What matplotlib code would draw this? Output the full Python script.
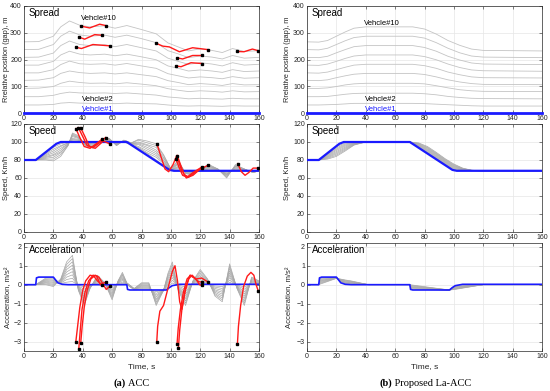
"""
ACC vs La-ACC platoon response: spread, speed and acceleration
"""
import matplotlib
matplotlib.use("Agg")
import matplotlib.pyplot as plt

# ---------------- data ----------------
# leader (vehicle #1)
lead_t = [0, 8, 22, 25, 70, 99, 102, 160]
lead_v = [80, 80, 98, 100, 100, 69, 68, 68]
lead_acc_t = [0, 8, 8.5, 10, 20, 21.5, 23, 26, 30, 70, 70.5, 72, 97, 99, 101, 106, 160]
lead_acc = [0, 0, 0.36, 0.4, 0.4, 0.25, 0.1, 0.02, 0, 0, -0.25, -0.28, -0.28, -0.15, -0.05, 0.02, 0.02]

# ---- (a) ACC ----
spread_a_t = [0, 10, 20, 25, 31, 38, 45, 55, 62, 70, 80, 90, 98, 105, 112, 120, 128, 135, 142, 150, 160]
spread_a = [
    [30, 30, 32, 37, 39, 37, 36, 36, 35, 37, 35, 34, 30, 27, 26, 27, 26, 25, 27, 26, 26],
    [61, 61, 66, 73, 78, 75, 74, 75, 73, 75, 71, 67, 60, 57, 53, 55, 53, 52, 55, 53, 53],
    [92, 93, 99, 111, 119, 114, 111, 112, 109, 113, 108, 102, 91, 85, 80, 83, 81, 78, 83, 79, 80],
    [122, 123, 132, 148, 157, 151, 148, 150, 146, 150, 143, 136, 121, 114, 106, 110, 107, 103, 110, 105, 106],
    [150, 150, 162, 181, 194, 184, 182, 184, 179, 185, 176, 167, 147, 139, 131, 135, 132, 128, 136, 130, 132],
    [179, 179, 193, 217, 231, 220, 217, 220, 214, 220, 210, 199, 176, 167, 157, 161, 157, 152, 162, 155, 157],
    [208, 209, 224, 252, 269, 256, 252, 255, 248, 256, 244, 232, 205, 193, 182, 188, 183, 176, 188, 179, 182],
    [237, 238, 256, 287, 306, 292, 287, 291, 283, 291, 278, 263, 233, 221, 207, 213, 209, 202, 215, 205, 208],
    [266, 267, 287, 322, 344, 328, 322, 326, 317, 327, 312, 296, 262, 247, 232, 240, 234, 226, 241, 230, 233],
]
spread_a_red_t = [
    [38.6, 44.7, 51.5, 55.6],
    [37.3, 41.3, 48.1, 52.9],
    [35.3, 39.1, 46.9, 58.5],
    [90.2, 94.5, 99, 105.8, 114.8, 125.2],
    [104.4, 108, 114.8, 120.9],
    [103.5, 106.9, 113.7, 120.9],
    [145.3, 149.8, 155.5, 159.5],
]
spread_a_red = [
    [325, 318, 332, 327],
    [284, 276, 293, 291],
    [246, 241, 256, 251],
    [260, 250, 247, 229, 244, 237],
    [206, 202, 215, 215],
    [176, 173, 188, 185],
    [230, 229, 239, 233],
]

speed_a_t = [0, 8, 15, 20, 25, 30, 33, 37, 42, 47, 53, 58, 63, 68, 73, 78, 84, 90, 95, 100,
             105, 110, 115, 120, 126, 132, 138, 144, 150, 156, 160]
speed_a = [
    [80, 80, 88, 94, 98, 100, 101, 101, 100, 99, 100, 100, 100, 100, 97, 93, 87, 80, 74, 69, 69, 68, 67, 68, 69, 68, 67, 69, 68, 68, 68],
    [80, 80, 87, 92, 96, 99, 102, 102, 99, 98, 100, 101, 99, 100, 97, 94, 88, 83, 76, 69, 71, 67, 67, 68, 70, 68, 66, 70, 68, 68, 68],
    [80, 80, 86, 90, 95, 99, 103, 102, 99, 98, 100, 101, 99, 101, 98, 95, 90, 85, 77, 69, 72, 67, 66, 69, 70, 69, 65, 70, 69, 67, 68],
    [80, 80, 85, 88, 93, 98, 104, 103, 98, 97, 100, 102, 98, 101, 98, 97, 92, 87, 79, 69, 73, 67, 66, 69, 71, 69, 64, 71, 69, 67, 68],
    [80, 80, 84, 86, 91, 98, 106, 104, 98, 96, 101, 102, 98, 101, 98, 98, 94, 89, 80, 69, 75, 66, 65, 69, 72, 69, 64, 72, 69, 67, 68],
    [80, 80, 83, 85, 89, 97, 107, 105, 97, 95, 101, 103, 97, 101, 98, 99, 96, 91, 82, 70, 76, 66, 65, 69, 73, 69, 63, 73, 69, 67, 68],
    [80, 80, 82, 83, 88, 97, 108, 105, 97, 95, 101, 103, 97, 102, 99, 100, 97, 94, 83, 70, 77, 66, 64, 70, 73, 70, 62, 73, 70, 66, 68],
    [80, 80, 81, 81, 86, 96, 109, 106, 96, 94, 101, 104, 96, 102, 99, 102, 99, 96, 85, 70, 79, 65, 64, 70, 74, 70, 61, 74, 70, 66, 68],
    [80, 80, 80, 79, 84, 96, 110, 107, 96, 93, 101, 104, 96, 102, 99, 103, 101, 98, 86, 70, 80, 65, 63, 70, 75, 70, 60, 75, 70, 66, 68],
]
speed_a_red_t = [
    [35.3, 38, 41, 45, 50, 53],
    [37, 40, 43, 47, 52, 55.6],
    [38.5, 41.5, 44.5, 48.5, 54, 58.3],
    [90.5, 93, 96, 98.5, 101.5, 104, 107, 110.5, 115, 120, 125.2],
    [104.4, 106.5, 109, 112, 116, 120.9],
    [103.5, 105.5, 108, 111, 115, 120.9],
    [145.5, 148, 150.5, 153, 156, 159.5],
]
speed_a_red = [
    [115, 105, 95, 93, 99, 103],
    [116, 106, 96, 94, 100, 105],
    [116, 106, 95, 93, 101, 98],
    [98, 85, 70, 67, 75, 85, 70, 60, 63, 70, 74],
    [85, 75, 64, 61, 66, 71],
    [81, 72, 63, 61, 66, 72],
    [76, 67, 63, 66, 71, 71],
]

acc_a_t = [0, 8, 15, 20, 25, 29, 33, 37, 41, 45, 50, 55, 60, 64, 67, 70, 75, 80, 85, 90,
           95, 98, 101, 105, 110, 115, 120, 125, 130, 135, 140, 145, 150, 155, 160]
acc_a = [
    [0, 0, 0.36, 0.34, 0.06, 0.13, 0.17, -0.03, -0.12, -0.02, 0.06, 0.01, -0.09, 0.02, 0.07, 0.01, -0.27, -0.24, -0.24, -0.37, -0.28, -0.13, 0.09, -0.03, -0.12, 0.02, 0.09, 0.03, -0.07, -0.1, 0.12, -0.02, -0.12, 0.04, 0.02],
    [0, 0, 0.31, 0.29, 0.09, 0.27, 0.34, -0.07, -0.24, -0.04, 0.11, 0.02, -0.18, 0.04, 0.14, 0.02, -0.26, -0.2, -0.2, -0.46, -0.28, -0.04, 0.23, -0.07, -0.24, 0.04, 0.18, 0.07, -0.13, -0.2, 0.24, -0.04, -0.24, 0.09, 0.04],
    [0, 0, 0.27, 0.23, 0.12, 0.4, 0.52, -0.1, -0.37, -0.07, 0.17, 0.03, -0.27, 0.07, 0.22, 0.03, -0.25, -0.15, -0.15, -0.55, -0.29, 0.05, 0.37, -0.1, -0.37, 0.07, 0.27, 0.1, -0.2, -0.3, 0.37, -0.07, -0.37, 0.13, 0.07],
    [0, 0, 0.22, 0.18, 0.15, 0.53, 0.69, -0.13, -0.49, -0.09, 0.22, 0.04, -0.36, 0.09, 0.29, 0.04, -0.24, -0.11, -0.11, -0.64, -0.29, 0.14, 0.51, -0.13, -0.49, 0.09, 0.36, 0.13, -0.27, -0.4, 0.49, -0.09, -0.49, 0.18, 0.09],
    [0, 0, 0.18, 0.12, 0.18, 0.67, 0.86, -0.17, -0.61, -0.11, 0.28, 0.06, -0.44, 0.11, 0.36, 0.06, -0.24, -0.07, -0.07, -0.74, -0.29, 0.24, 0.64, -0.17, -0.61, 0.11, 0.44, 0.17, -0.33, -0.5, 0.61, -0.11, -0.61, 0.22, 0.11],
    [0, 0, 0.13, 0.07, 0.21, 0.8, 1.03, -0.2, -0.73, -0.13, 0.33, 0.07, -0.53, 0.13, 0.43, 0.07, -0.23, -0.03, -0.03, -0.83, -0.29, 0.33, 0.78, -0.2, -0.73, 0.13, 0.53, 0.2, -0.4, -0.6, 0.73, -0.13, -0.73, 0.27, 0.13],
    [0, 0, 0.09, 0.01, 0.24, 0.93, 1.21, -0.23, -0.86, -0.16, 0.39, 0.08, -0.62, 0.16, 0.51, 0.08, -0.22, 0.02, 0.02, -0.92, -0.3, 0.42, 0.92, -0.23, -0.86, 0.16, 0.62, 0.23, -0.47, -0.7, 0.86, -0.16, -0.86, 0.31, 0.16],
    [0, 0, 0.04, -0.04, 0.27, 1.07, 1.38, -0.27, -0.98, -0.18, 0.44, 0.09, -0.71, 0.18, 0.58, 0.09, -0.21, 0.06, 0.06, -1.01, -0.3, 0.51, 1.06, -0.27, -0.98, 0.18, 0.71, 0.27, -0.53, -0.8, 0.98, -0.18, -0.98, 0.36, 0.18],
    [0, 0, 0, -0.1, 0.3, 1.2, 1.55, -0.3, -1.1, -0.2, 0.5, 0.1, -0.8, 0.2, 0.65, 0.1, -0.2, 0.1, 0.1, -1.1, -0.3, 0.6, 1.2, -0.3, -1.1, 0.2, 0.8, 0.3, -0.6, -0.9, 1.1, -0.2, -1.1, 0.4, 0.2],
]
acc_a_red_t = [
    [35.3, 36.5, 38, 40, 42, 45, 47.5, 50, 52.9],
    [37.3, 38.3, 39.5, 41.5, 44, 47, 49.5, 52, 55.6],
    [38.6, 39.6, 41, 43, 45.5, 48.5, 51, 54, 56, 58.3],
    [90.4, 91, 92.5, 95, 98, 101, 102.8, 104.5, 106, 107.5, 110, 113, 117, 121, 125.2],
    [104.2, 105, 106.5, 108.5, 111, 113.5, 116, 119, 120.9],
    [105.1, 106, 107.5, 109.5, 112, 114.5, 117, 119.5, 120.9],
    [145.3, 146, 147.5, 149.5, 152, 154.5, 156.5, 158, 159.6],
]
acc_a_red = [
    [-3.0, -2.2, -1.2, -0.3, 0.2, 0.5, 0.45, 0.2, 0.0],
    [-3.39, -2.4, -1.3, -0.4, 0.2, 0.5, 0.45, 0.0, 0.14],
    [-3.09, -2.2, -1.2, -0.3, 0.3, 0.5, 0.4, 0.0, -0.25, -0.09],
    [-3.0, -2.2, -1.4, -1.1, -0.2, 0.7, 1.0, 0.2, -0.9, -1.3, -0.2, 0.5, 0.3, 0.35, 0.14],
    [-3.13, -2.3, -1.3, -0.4, 0.3, 0.5, 0.35, 0.15, 0.14],
    [-3.36, -2.4, -1.3, -0.4, 0.3, 0.5, 0.3, 0.0, -0.04],
    [-3.13, -2.2, -1.1, -0.1, 0.45, 0.65, 0.5, 0.0, -0.35],
]

# ---- (b) Proposed La-ACC ----
spread_b_t = [0, 8, 14, 20, 26, 32, 40, 72, 80, 88, 96, 104, 112, 120, 160]
spread_b = [
    [30, 30, 31, 32, 34, 36, 36, 36, 35, 33, 31, 29, 27, 26, 26],
    [61, 61, 62, 66, 70, 73, 74, 74, 72, 68, 62, 58, 55, 54, 53],
    [92, 92, 94, 99, 105, 109, 111, 111, 109, 102, 94, 87, 83, 81, 80],
    [122, 121, 124, 132, 139, 145, 148, 148, 144, 135, 124, 116, 110, 107, 106],
    [150, 149, 153, 162, 171, 179, 182, 182, 177, 167, 153, 143, 135, 132, 131],
    [179, 178, 183, 193, 204, 213, 217, 217, 211, 199, 183, 170, 161, 158, 156],
    [208, 207, 212, 225, 237, 248, 252, 252, 245, 231, 212, 198, 187, 183, 181],
    [237, 236, 242, 256, 270, 282, 287, 287, 280, 263, 242, 225, 213, 209, 207],
    [266, 265, 271, 287, 303, 317, 322, 322, 314, 295, 271, 253, 239, 234, 232],
]

speed_b_t = [0, 8, 14, 20, 26, 32, 40, 70, 76, 82, 88, 94, 100, 106, 112, 118, 160]
speed_b = [
    [80, 80, 87.2, 94.7, 98.9, 99.6, 100, 100, 94.2, 88.1, 81.7, 75.2, 69.3, 68.3, 68.1, 68, 68],
    [80, 80, 86.4, 93.3, 97.8, 99.2, 100, 100, 94.8, 88.9, 82.5, 76.0, 70.1, 68.7, 68.2, 68, 68],
    [80, 80, 85.7, 92.0, 96.7, 98.8, 100, 100, 95.4, 89.8, 83.4, 76.8, 70.8, 69.0, 68.2, 68, 68],
    [80, 80, 84.9, 90.7, 95.6, 98.4, 100, 100, 96.0, 90.7, 84.2, 77.6, 71.6, 69.3, 68.3, 68, 68],
    [80, 80, 84.1, 89.3, 94.4, 98.1, 100, 100, 96.6, 91.5, 85.1, 78.3, 72.4, 69.7, 68.4, 68, 68],
    [80, 80, 83.3, 88.0, 93.3, 97.7, 100, 100, 97.2, 92.4, 86.0, 79.1, 73.2, 70.0, 68.5, 68, 68],
    [80, 80, 82.6, 86.7, 92.2, 97.3, 100, 100, 97.8, 93.3, 86.8, 79.9, 73.9, 70.3, 68.5, 68, 68],
    [80, 80, 81.8, 85.3, 91.1, 96.9, 100, 100, 98.4, 94.1, 87.6, 80.7, 74.7, 70.7, 68.6, 68, 68],
    [80, 80, 81.0, 84.0, 90.0, 96.5, 100, 100, 99.0, 95.0, 88.5, 81.5, 75.5, 71.0, 68.7, 68, 68],
]

acc_b_t = [0, 8, 9, 20, 22, 26, 30, 36, 42, 70, 71, 97, 100, 110, 120, 160]
acc_b = [
    [0, 0, 0.34, 0.40, 0.21, 0.05, 0.02, 0.01, 0, 0, -0.24, -0.29, -0.09, -0.03, 0, 0],
    [0, 0, 0.30, 0.39, 0.22, 0.08, 0.04, 0.02, 0, 0, -0.21, -0.29, -0.11, -0.04, 0, 0],
    [0, 0, 0.26, 0.38, 0.24, 0.10, 0.07, 0.03, 0, 0, -0.18, -0.29, -0.13, -0.06, 0, 0],
    [0, 0, 0.22, 0.37, 0.25, 0.13, 0.09, 0.04, 0, 0, -0.15, -0.29, -0.15, -0.07, 0, 0],
    [0, 0, 0.19, 0.37, 0.26, 0.15, 0.11, 0.06, 0, 0, -0.13, -0.28, -0.18, -0.08, 0, 0],
    [0, 0, 0.15, 0.36, 0.27, 0.18, 0.13, 0.07, 0, 0, -0.10, -0.28, -0.20, -0.09, 0, 0],
    [0, 0, 0.11, 0.35, 0.29, 0.20, 0.16, 0.08, 0, 0, -0.07, -0.28, -0.22, -0.11, 0, 0],
    [0, 0, 0.07, 0.34, 0.30, 0.23, 0.18, 0.09, 0, 0, -0.04, -0.28, -0.24, -0.12, 0, 0],
    [0, 0, 0.03, 0.33, 0.31, 0.25, 0.20, 0.10, 0, 0, -0.01, -0.28, -0.26, -0.13, 0, 0],
]

x_ticks = [0, 20, 40, 60, 80, 100, 120, 140, 160]

# ---------------- style ----------------
plt.rcParams['font.family'] = ['Liberation Sans', 'DejaVu Sans']
plt.rcParams['mathtext.fontset'] = 'custom'
plt.rcParams['mathtext.rm'] = 'Liberation Sans'
plt.rcParams['mathtext.it'] = 'Liberation Sans'
AX_COL = '#262626'
GRAY = '#a8a8a8'
BLUE = '#1a1aff'
RED = '#ff1a1a'


def style_axes(ax, ylim, yticks, title):
    ax.set_xlim(0, 160)
    ax.set_ylim(*ylim)
    ax.set_xticks(x_ticks)
    ax.set_yticks(yticks)
    ax.grid(True, color='#e6e6e6', lw=0.5)
    ax.set_axisbelow(True)
    ax.tick_params(direction='in', length=2, width=0.4, labelsize=5,
                   colors=AX_COL, top=True, right=True, pad=1.5)
    for s in ax.spines.values():
        s.set_linewidth(0.5)
        s.set_color(AX_COL)
    ax.text(0.02, 0.985, title, transform=ax.transAxes, ha='left', va='top',
            fontsize=7, color='k')


def draw_red(ax, ts, ys):
    for t, y in zip(ts, ys):
        ax.plot(t, y, color=RED, lw=1.0, zorder=4)
        ax.plot([t[0], t[-1]], [y[0], y[-1]], ls='none', marker='s', ms=2,
                color='k', zorder=5)


fig = plt.figure(figsize=(5.5, 3.91), dpi=100)
col_x = [24 / 550, 307 / 550]
col_w = 235 / 550
rows = [((391 - 113) / 391, 107 / 391),
        ((391 - 232) / 391, 108 / 391),
        ((391 - 351) / 391, 108 / 391)]

for c in range(2):
    ax_sp = fig.add_axes([col_x[c], rows[0][0], col_w, rows[0][1]])
    ax_v = fig.add_axes([col_x[c], rows[1][0], col_w, rows[1][1]])
    ax_a = fig.add_axes([col_x[c], rows[2][0], col_w, rows[2][1]])
    style_axes(ax_sp, (0, 400), [0, 100, 200, 300, 400], 'Spread')
    style_axes(ax_v, (0, 120), [0, 20, 40, 60, 80, 100, 120], 'Speed')
    style_axes(ax_a, (-3.5, 2.2), [-3, -2, -1, 0, 1, 2], 'Acceleration')

    if c == 0:
        sp_t, sp, v_t, vv, a_t, aa = spread_a_t, spread_a, speed_a_t, speed_a, acc_a_t, acc_a
    else:
        sp_t, sp, v_t, vv, a_t, aa = spread_b_t, spread_b, speed_b_t, speed_b, acc_b_t, acc_b

    for row in sp:
        ax_sp.plot(sp_t, row, color='#c4c4c4', lw=0.6, zorder=2)
    ax_sp.plot([0, 160], [0, 0], color=BLUE, lw=2.0, zorder=3, clip_on=False)
    for row in vv:
        ax_v.plot(v_t, row, color=GRAY, lw=0.5, zorder=2)
    ax_v.plot(lead_t, lead_v, color=BLUE, lw=1.6, zorder=3)
    for row in aa:
        ax_a.plot(a_t, row, color=GRAY, lw=0.5, zorder=2)
    ax_a.plot(lead_acc_t, lead_acc, color=BLUE, lw=1.2, zorder=3)

    if c == 0:
        draw_red(ax_sp, spread_a_red_t, spread_a_red)
        draw_red(ax_v, speed_a_red_t, speed_a_red)
        draw_red(ax_a, acc_a_red_t, acc_a_red)
        top_y = 352
    else:
        top_y = 334

    ax_sp.text(51, top_y, 'Vehcle#10', fontsize=5.5, ha='center', va='center')
    ax_sp.text(50, 52, 'Vehcle#2', fontsize=5.5, ha='center', va='center')
    ax_sp.text(50, 14, 'Vehcle#1', fontsize=5.5, ha='center', va='center', color=BLUE)

    lx = -0.06 if c == 0 else -0.068
    ax_sp.set_ylabel('Rrelative position (gap), m', fontsize=5.3, color=AX_COL)
    ax_v.set_ylabel('Speed, Km/h', fontsize=5.5, color=AX_COL)
    ax_a.set_ylabel('Acceleration, m/s²', fontsize=5.5, color=AX_COL)
    ax_sp.yaxis.set_label_coords(lx, 0.5)
    ax_v.yaxis.set_label_coords(lx, 0.5)
    ax_a.yaxis.set_label_coords(lx + 0.01, 0.5)
    ax_a.set_xlabel('Time, s', fontsize=6, color=AX_COL, labelpad=2)

# captions
cap_y = 1 - 383 / 391
fig.text(126 / 550, cap_y, '(a)', fontsize=7.5, family='Liberation Serif',
         weight='bold', ha='right', va='center')
fig.text(126 / 550, cap_y, ' ACC', fontsize=7.5, family='Liberation Serif',
         ha='left', va='center')
fig.text(392 / 550, cap_y, '(b)', fontsize=7.5, family='Liberation Serif',
         weight='bold', ha='right', va='center')
fig.text(392 / 550, cap_y, ' Proposed La-ACC', fontsize=7.5, family='Liberation Serif',
         ha='left', va='center')

fig.savefig('out.png', dpi=100)
